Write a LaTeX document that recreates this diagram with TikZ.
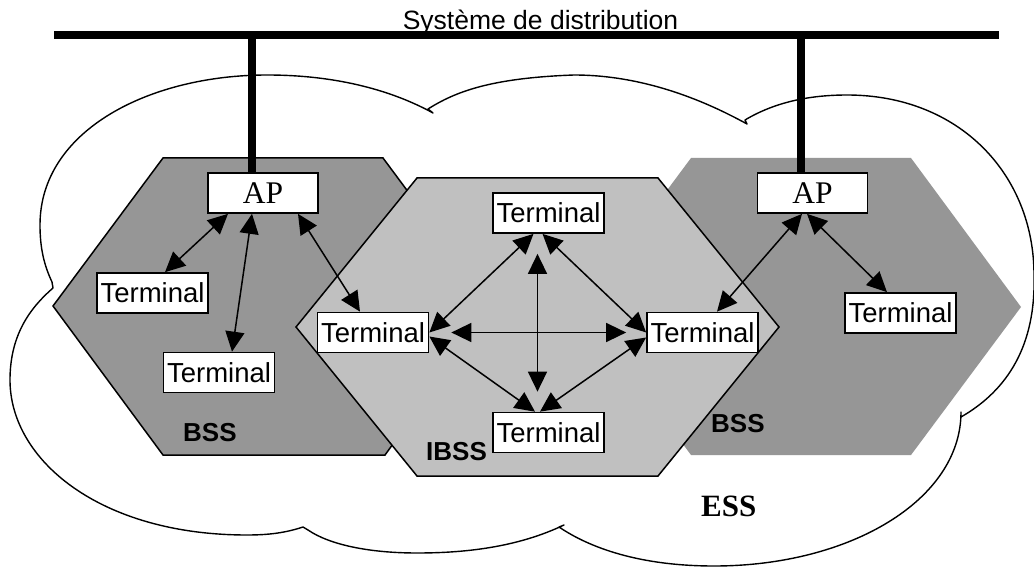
\documentclass[tikz,border=0pt]{standalone}
\usepackage{fontspec}
\setmainfont{Liberation Serif}
\setsansfont{Liberation Sans}
\usetikzlibrary{arrows.meta}

\definecolor{bssgray}{RGB}{150,150,150}
\definecolor{ibssgray}{RGB}{192,192,192}

\begin{document}
\begin{tikzpicture}[x=1pt,y=-1pt,
  box/.style={draw, line width=1.7pt, fill=white, inner sep=0pt, minimum height=40pt},
  term/.style={box, minimum width=111pt, font=\sffamily\fontsize{27.5}{31}\selectfont},
  ap/.style={box, minimum width=110pt, font=\fontsize{31.5}{35}\selectfont},
  link/.style={line width=1.5pt, {Triangle[length=20pt,width=19pt]}-{Triangle[length=20pt,width=19pt]}},
  bus/.style={line width=7.5pt},
  hexlabel/.style={font=\sffamily\bfseries\fontsize{26}{29}\selectfont, anchor=base west, inner sep=0pt},
  cloud/.style={draw, line width=1.4pt, fill=white, line join=round},
]
\useasboundingbox (0,0) rectangle (1034,567);
\fill[white] (0,0) rectangle (1034,567);

% extended service set: the cloud outline
\path[cloud]
  (52,282) .. controls (44,265) and (40,248) .. (40,225)
  .. controls (40,130) and (150,75) .. (267,75)
  .. controls (340,75) and (395,92) .. (433,113)
  -- (428,109)
  .. controls (455,92) and (490,78) .. (574,75)
  .. controls (640,75) and (700,98) .. (747,124)
  -- (745,120)
  .. controls (775,102) and (810,95) .. (847,95)
  .. controls (960,95) and (1034,175) .. (1034,275)
  .. controls (1036,345) and (1008,390) .. (961,417)
  -- (961,412)
  .. controls (961,500) and (850,566) .. (714,566)
  .. controls (640,566) and (590,548) .. (559,527)
  -- (564,525)
  .. controls (520,546) and (470,553) .. (417,553)
  .. controls (370,553) and (330,545) .. (308,530)
  -- (303,527)
  .. controls (285,533) and (268,535) .. (247,535)
  .. controls (100,535) and (10,460) .. (10,380)
  .. controls (10,335) and (30,308) .. (53,288)
  -- cycle;

% basic service sets and the independent one
\filldraw[fill=bssgray, draw=black, line width=1.5pt, line join=miter]
  (163,158) -- (383,158) -- (493,306) -- (385,455) -- (163,455) -- (53,306) -- cycle;
\fill[bssgray]
  (691,158) -- (911,158) -- (1021,307) -- (911,455) -- (691,455) -- (581,306) -- cycle;
\filldraw[fill=ibssgray, draw=black, line width=1.5pt, line join=miter]
  (417,178) -- (658,178) -- (779,327) -- (658,476) -- (417,476) -- (296,327) -- cycle;

% stations
\node[ap]   (AP1) at (263,193)   {AP};
\node[ap]   (AP2) at (812.5,193) {AP};
\node[term] (T1)  at (152.5,293) {Terminal};
\node[term] (T2)  at (219,372.5) {Terminal};
\node[term] (T3)  at (373,332.5) {Terminal};
\node[term] (T4)  at (548.5,213) {Terminal};
\node[term] (T5)  at (702.5,332.5) {Terminal};
\node[term] (T6)  at (548.5,432.5) {Terminal};
\node[term] (T7)  at (900.5,313) {Terminal};

% distribution system
\node[font=\sffamily\fontsize{26.5}{30}\selectfont, anchor=base, inner sep=0pt] (title) at (540.5,30) {Système de distribution};
\coordinate (busL) at (54,35);
\coordinate (busR) at (999,35);
\draw[bus] (busL) -- (busR);
\coordinate (dropL) at ([xshift=-11pt]AP1.north);
\coordinate (dropR) at ([xshift=-11.5pt]AP2.north);
\draw[bus] (dropL) -- (dropL |- busL);
\draw[bus] (dropR) -- (dropR |- busR);

% radio links
\draw[link] ([xshift=-35pt]AP1.south) -- ([xshift=12.5pt]T1.north);
\draw[link] ([xshift=-11pt]AP1.south) -- ([xshift=13pt]T2.north);
\draw[link] ([xshift=35pt]AP1.south) -- ([xshift=-13pt]T3.north);
\draw[link] ([xshift=-15pt]T4.south) -- (T3.east);
\draw[link] ([xshift=-6pt]T4.south) -- (T5.west);
\draw[link] ([xshift=-11pt,yshift=-20pt]T4.south) -- ([xshift=-11pt,yshift=20pt]T6.north);
\draw[link] ([xshift=22pt]T3.east) -- ([xshift=-20pt]T5.west);
\draw[link] ([yshift=-4pt]T3.east) -- ([xshift=-13.5pt]T6.north);
\draw[link] ([yshift=-5pt]T5.west) -- ([xshift=-8.5pt]T6.north);
\draw[link] ([xshift=-10.5pt]AP2.south) -- ([xshift=14.5pt]T5.north);
\draw[link] ([xshift=-5.5pt]AP2.south) -- ([xshift=-13.5pt]T7.north);

% set labels
\node[hexlabel] (lblBSSa) at (183,441) {BSS};
\node[hexlabel] (lblIBSS) at (426,460) {IBSS};
\node[hexlabel] (lblBSSb) at (711,432) {BSS};
\node[font=\bfseries\fontsize{31}{35}\selectfont, anchor=base west, inner sep=0pt] (lblESS) at (701,516) {ESS};
\end{tikzpicture}
\end{document}
